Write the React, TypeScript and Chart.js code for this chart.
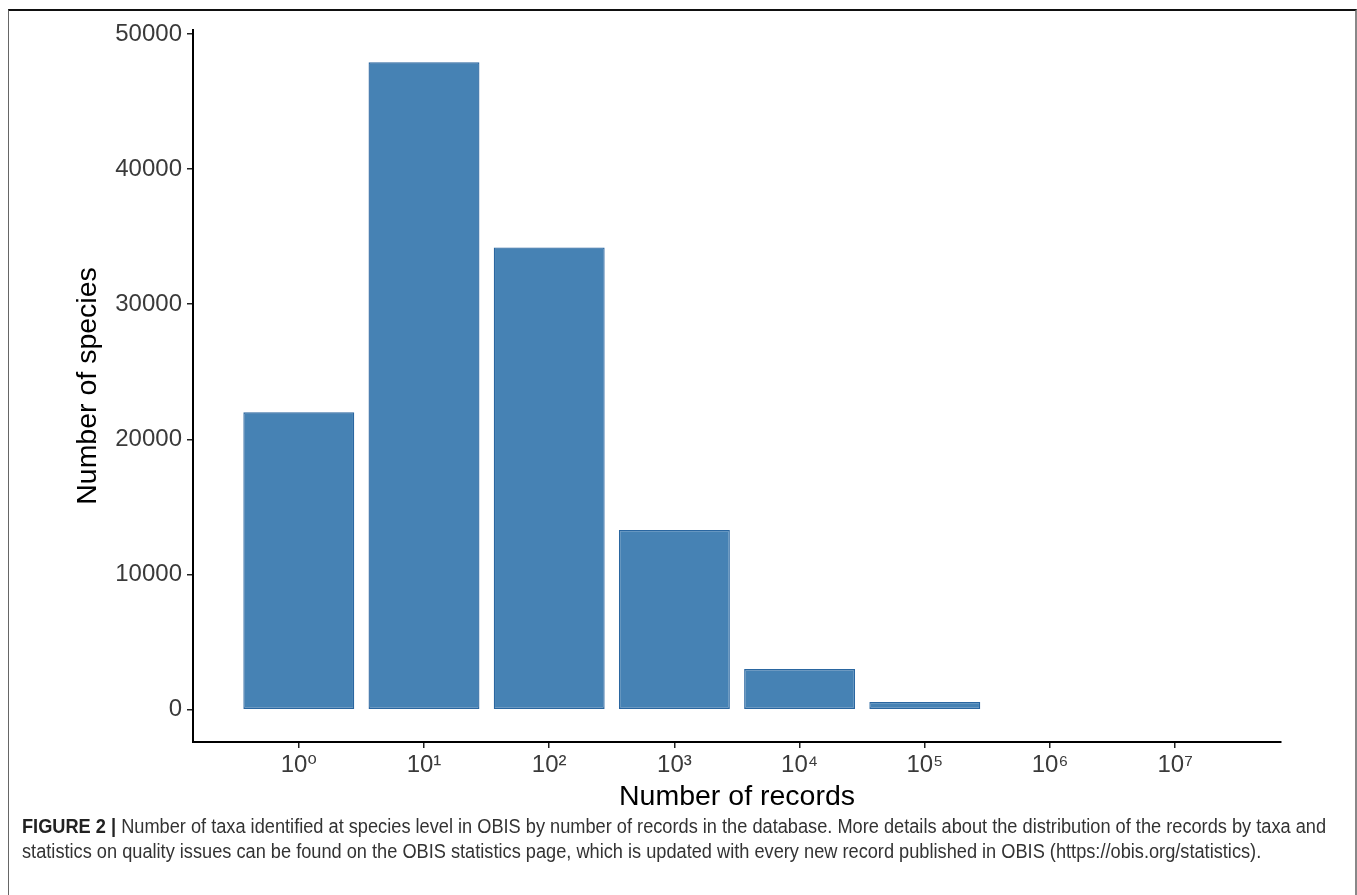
import React, { useEffect, useRef } from "react";
import { Chart, registerables } from "chart.js";

Chart.register(...registerables);

const exponents = [0, 1, 2, 3, 4, 5, 6, 7];
const xTickLabels = ["10⁰", "10¹", "10²", "10³", "10⁴", "10⁵", "10⁶", "10⁷"];
const speciesCounts: (number | null)[] = [22000, 47900, 34200, 13300, 3000, 570, null, null];
const yTickValues = [0, 10000, 20000, 30000, 40000, 50000];

const xTitle = "Number of records";
const yTitle = "Number of species";
const captionBold = "FIGURE 2 |";
const captionLine1 =
  " Number of taxa identified at species level in OBIS by number of records in the database. More details about the distribution of the records by taxa and";
const captionLine2 =
  "statistics on quality issues can be found on the OBIS statistics page, which is updated with every new record published in OBIS (https://obis.org/statistics).";

export default function App() {
  const canvasRef = useRef<HTMLCanvasElement | null>(null);

  useEffect(() => {
    if (!canvasRef.current) return;
    const tickFont = { family: "'Liberation Sans', 'DejaVu Sans', Arial, sans-serif", size: 24 };
    const titleFont = { family: "'Liberation Sans', Arial, sans-serif", size: 28.5 };
    const chart = new Chart(canvasRef.current, {
      type: "bar",
      data: {
        datasets: [
          {
            data: exponents.map((e, i) => ({ x: e, y: speciesCounts[i] })) as any,
            backgroundColor: "#4682B4",
            borderColor: "#2A66A0",
            borderWidth: 1.3,
            borderSkipped: false,
            barPercentage: 0.886,
            categoryPercentage: 1,
          },
        ],
      },
      options: {
        animation: false,
        responsive: false,
        maintainAspectRatio: false,
        layout: { padding: { left: 0, right: 76, top: 30, bottom: 0 } },
        plugins: { legend: { display: false }, tooltip: { enabled: false } },
        scales: {
          x: {
            type: "linear",
            offset: false,
            min: -0.845,
            max: 7.845,
            afterBuildTicks: (scale: any) => {
              scale.ticks = exponents.map((v) => ({ value: v }));
            },
            afterFit: (scale: any) => {
              scale.height = 78;
            },
            ticks: {
              font: tickFont,
              color: "#3a3a3a",
              padding: 3,
              maxRotation: 0,
              autoSkip: false,
              callback: (v: any) => xTickLabels[exponents.indexOf(Number(v))] ?? "",
            },
            grid: { display: true, offset: false, drawOnChartArea: false, drawTicks: true, tickLength: 6, color: "#222", lineWidth: 1.5 },
            border: { display: true, color: "#000", width: 2 },
            title: { display: true, text: xTitle, font: titleFont, color: "#000", padding: { top: 0, bottom: 6 } },
          },
          y: {
            type: "linear",
            min: -2395,
            max: 50295,
            afterBuildTicks: (scale: any) => {
              scale.ticks = yTickValues.map((v) => ({ value: v }));
            },
            afterFit: (scale: any) => {
              scale.width = 193;
            },
            ticks: {
              font: tickFont,
              color: "#3a3a3a",
              padding: 5,
              callback: (v: any) => String(v),
            },
            grid: { display: true, drawOnChartArea: false, drawTicks: true, tickLength: 6, color: "#222", lineWidth: 1.5 },
            border: { display: true, color: "#000", width: 2 },
            title: { display: true, text: yTitle, font: titleFont, color: "#000", padding: { top: 71, bottom: 0 } },
          },
        },
      },
    });
    return () => chart.destroy();
  }, []);

  return (
    <div style={{ position: "absolute", left: 0, top: 0, width: 1357, height: 895, overflow: "hidden", background: "#fff" }}>
      <div
        style={{
          position: "absolute",
          left: 8,
          top: 9,
          width: 1349,
          height: 900,
          borderTop: "2px solid #111",
          borderLeft: "1.5px solid #666",
          borderRight: "2px solid #888",
          boxSizing: "border-box",
        }}
      />
      <canvas ref={canvasRef} width={1357} height={820} style={{ position: "absolute", left: 0, top: 0, width: 1357, height: 820 }} />
      <div
        style={{
          position: "absolute",
          left: 22,
          top: 814,
          whiteSpace: "nowrap",
          fontFamily: "'Liberation Sans', Arial, sans-serif",
          fontSize: 20,
          lineHeight: "25px",
          color: "#333",
          transform: "scaleX(0.91)",
          transformOrigin: "0 0",
        }}
      >
        <div>
          <span style={{ fontWeight: "bold", color: "#222" }}>{captionBold}</span>
          {captionLine1}
        </div>
        <div>{captionLine2}</div>
      </div>
    </div>
  );
}
